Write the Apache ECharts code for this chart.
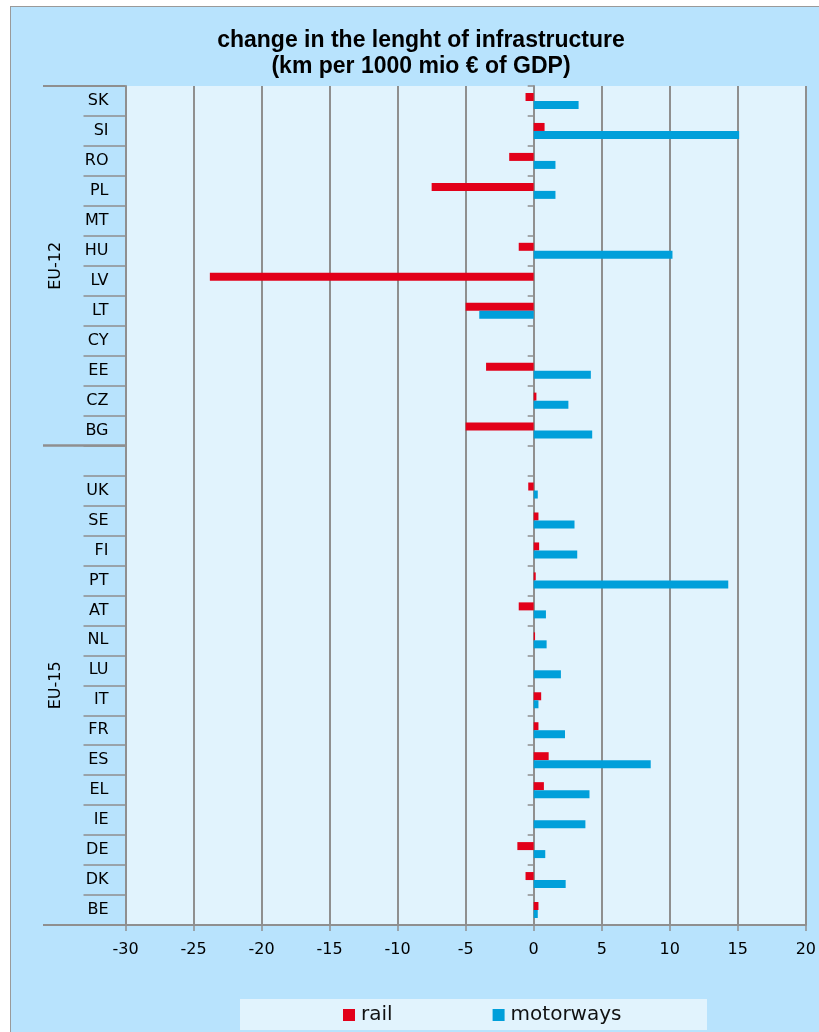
<!DOCTYPE html>
<html>
<head>
<meta charset="utf-8">
<script src="https://cdn.jsdelivr.net/npm/echarts@6/dist/echarts.min.js"></script>
<style>
html,body{margin:0;padding:0;background:#ffffff;width:819px;height:1032px;overflow:hidden;}
#frame{position:absolute;left:10px;top:6px;width:840px;height:1060px;background:#b8e3fd;border:1.5px solid #9a9a9a;}
#chart{position:absolute;left:0;top:0;width:819px;height:1032px;}
</style>
</head>
<body>
<div id="frame"></div>
<div id="chart"></div>
<script>
// ---- data ----
const categories = ['SK','SI','RO','PL','MT','HU','LV','LT','CY','EE','CZ','BG','','UK','SE','FI','PT','AT','NL','LU','IT','FR','ES','EL','IE','DE','DK','BE'];
const rail =      [-0.6, 0.8, -1.8, -7.5, null, -1.1, -23.8, -5.0, null, -3.5, 0.2, -5.0, null, -0.4, 0.35, 0.4, 0.15, -1.1, 0.1, null, 0.55, 0.35, 1.1, 0.75, null, -1.2, -0.6, 0.35];
const motorways = [3.3, 15.1, 1.6, 1.6, null, 10.2, null, -4.0, null, 4.2, 2.55, 4.3, null, 0.3, 3.0, 3.2, 14.3, 0.9, 0.95, 2.0, 0.35, 2.3, 8.6, 4.1, 3.8, 0.85, 2.35, 0.3];
const groups = [{name:'EU-12', from:0, to:11}, {name:'EU-15', from:12, to:27}];
const seriesNames = ['rail','motorways'];
const titleText = 'change in the lenght of infrastructure\n(km per 1000 mio € of GDP)';
const xTicks = {min:-30, max:20, interval:5};

const gray = '#8f8f8f';
const labelFont = 'DejaVu Sans';

const chart = echarts.init(document.getElementById('chart'), null, {renderer:'canvas'});
const option = {
  backgroundColor: 'transparent',
  animation: false,
  legend: {
    data: seriesNames,
    left: 338,
    top: 1000,
    itemWidth: 12,
    itemHeight: 12,
    itemGap: 100,
    icon: 'rect',
    textStyle: {fontFamily: labelFont, fontSize: 20, color:'#111', padding:[0,0,0,1]}
  },
  grid: {
    left: 125.5, right: 11, top: 86, bottom: 107,
    show: true, backgroundColor: '#e1f3fd', borderWidth: 0
  },
  xAxis: {
    type: 'value',
    min: xTicks.min, max: xTicks.max, interval: xTicks.interval,
    axisLine: {show:true, onZero:false, lineStyle:{color:gray, width:2}},
    axisTick: {show:true, length:6, lineStyle:{color:gray, width:1.5}},
    axisLabel: {fontFamily: labelFont, fontSize:16, color:'#000', margin:17},
    splitLine: {show:true, lineStyle:{color:gray, width:2}}
  },
  yAxis: [{
    type: 'category',
    data: categories,
    inverse: true,
    position: 'left',
    axisLine: {show:true, onZero:false, lineStyle:{color:gray, width:2}},
    axisTick: {show:true, length:42, interval:0, lineStyle:{color:gray, width:1.5}},
    axisLabel: {interval:0, fontFamily: labelFont, fontSize:16, color:'#000', margin:17},
    splitLine: {show:false}
  }, {
    type: 'category',
    data: categories,
    inverse: true,
    position: 'left',
    axisLine: {show:true, onZero:true, lineStyle:{color:gray, width:2}},
    axisTick: {show:true, length:6, interval:0, lineStyle:{color:gray, width:1.5}},
    axisLabel: {show:false},
    splitLine: {show:false}
  }],
  series: [{
    name: seriesNames[0], type: 'bar', data: rail,
    barWidth: 8, barGap: '0%',
    itemStyle: {color:'#e2001a'}
  }, {
    name: seriesNames[1], type: 'bar', data: motorways,
    barWidth: 8, barGap: '0%',
    itemStyle: {color:'#009fda'}
  }]
};
chart.setOption(option);

// multi-level axis decorations computed from the axis scales
function bandEdges(i){
  const c0 = chart.convertToPixel({yAxisIndex:0}, 0);
  const c1 = chart.convertToPixel({yAxisIndex:0}, 1);
  const bw = c1 - c0;
  const c = chart.convertToPixel({yAxisIndex:0}, i);
  return [c - bw/2, c + bw/2];
}
const plotLeft = chart.convertToPixel({xAxisIndex:0}, xTicks.min);
const outerX = 43;
const graphics = [{
  type:'rect', z:-10, silent:true,
  shape:{x:240, y:999, width:467, height:31},
  style:{fill:'#e1f3fd'}
}, {
  type:'text', z:10, silent:true, x:421, y:28,
  style:{text:titleText, fontFamily:'Liberation Sans', fontWeight:'bold', fontSize:23, lineHeight:26,
         fill:'#000', align:'center', verticalAlign:'top'}
}];
groups.forEach(g => {
  const top = bandEdges(g.from)[0];
  const bot = bandEdges(g.to)[1];
  graphics.push({type:'line', z:5, silent:true, shape:{x1:outerX, y1:top, x2:plotLeft, y2:top}, style:{stroke:gray, lineWidth:2}});
  graphics.push({type:'line', z:5, silent:true, shape:{x1:outerX, y1:bot, x2:plotLeft, y2:bot}, style:{stroke:gray, lineWidth:2}});
  graphics.push({type:'text', z:5, silent:true, x:55.5, y:(top+bot)/2, rotation:Math.PI/2,
    style:{text:g.name, fontFamily:labelFont, fontSize:16, fill:'#000', align:'center', verticalAlign:'middle'}});
});
chart.setOption({graphic: graphics});
</script>
</body>
</html>
